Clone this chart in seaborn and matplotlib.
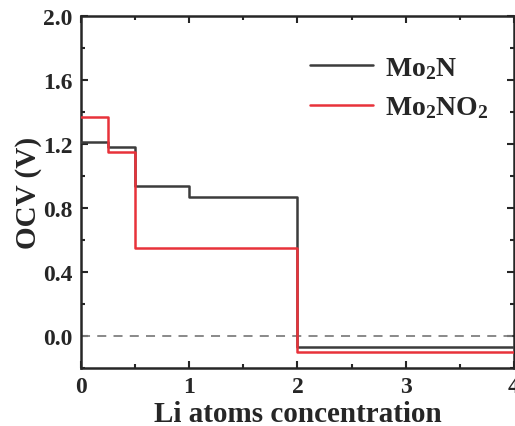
import numpy as np
import pandas as pd
import matplotlib
matplotlib.use("Agg")
import matplotlib.pyplot as plt
import seaborn as sns
from matplotlib.ticker import MultipleLocator

# Li concentration step edges and OCV plateaus (last value repeated at x=4)
x_mo2n = [0, 0.25, 0.5, 1.0, 2.0, 4.0]
ocv_mo2n = [1.21, 1.18, 0.94, 0.87, -0.07, -0.07]
x_mo2no2 = [0, 0.25, 0.5, 2.0, 4.0]
ocv_mo2no2 = [1.37, 1.15, 0.55, -0.10, -0.10]
labels = ['Mo$_2$N', 'Mo$_2$NO$_2$']
colors = ['#3c3c3c', '#e8323a']

df = pd.concat([
    pd.DataFrame({'x': x_mo2n, 'ocv': ocv_mo2n, 'system': labels[0]}),
    pd.DataFrame({'x': x_mo2no2, 'ocv': ocv_mo2no2, 'system': labels[1]}),
], ignore_index=True)

sns.set_style("ticks")
plt.rcParams['font.family'] = ['Liberation Serif', 'DejaVu Serif']
plt.rcParams['font.weight'] = 'bold'
plt.rcParams['mathtext.fontset'] = 'custom'
plt.rcParams['mathtext.rm'] = 'Liberation Serif:bold'
plt.rcParams['mathtext.it'] = 'Liberation Serif:bold'
plt.rcParams['mathtext.bf'] = 'Liberation Serif:bold'

fig = plt.figure(figsize=(5.15, 4.27), dpi=100)
ax = fig.add_axes([0.157, 0.136, 0.841, 0.824])

ax.axhline(0, color='#808080', linestyle=(0, (5, 4)), linewidth=1.3, zorder=1)
sns.lineplot(data=df, x='x', y='ocv', hue='system', palette=colors,
             drawstyle='steps-post', linewidth=1.8, ax=ax, sort=False,
             estimator=None, zorder=3)

ax.set_xlim(0, 4)
ax.set_ylim(-0.2, 2.0)
ax.xaxis.set_major_locator(MultipleLocator(1))
ax.xaxis.set_minor_locator(MultipleLocator(0.5))
ax.yaxis.set_major_locator(MultipleLocator(0.4))
ax.yaxis.set_minor_locator(MultipleLocator(0.2))
ax.yaxis.set_major_formatter(plt.FuncFormatter(lambda v, p: f'{v:.1f}'))
ax.tick_params(which='both', direction='in', top=True, right=True, width=1.5)
ax.tick_params(which='major', length=5, labelsize=17, pad=6)
ax.tick_params(which='minor', length=3)
for s in ax.spines.values():
    s.set_linewidth(1.8)

ax.set_xlabel('Li atoms concentration', fontsize=21, fontweight='bold', labelpad=2)
ax.set_ylabel('OCV (V)', fontsize=21, fontweight='bold', labelpad=1)

ax.legend(loc='upper right', frameon=False, fontsize=20, title=None,
          handlelength=2.3, handletextpad=0.4, borderaxespad=0.3,
          labelspacing=0.5, bbox_to_anchor=(0.985, 0.945))

fig.savefig('out.png', dpi=100)
